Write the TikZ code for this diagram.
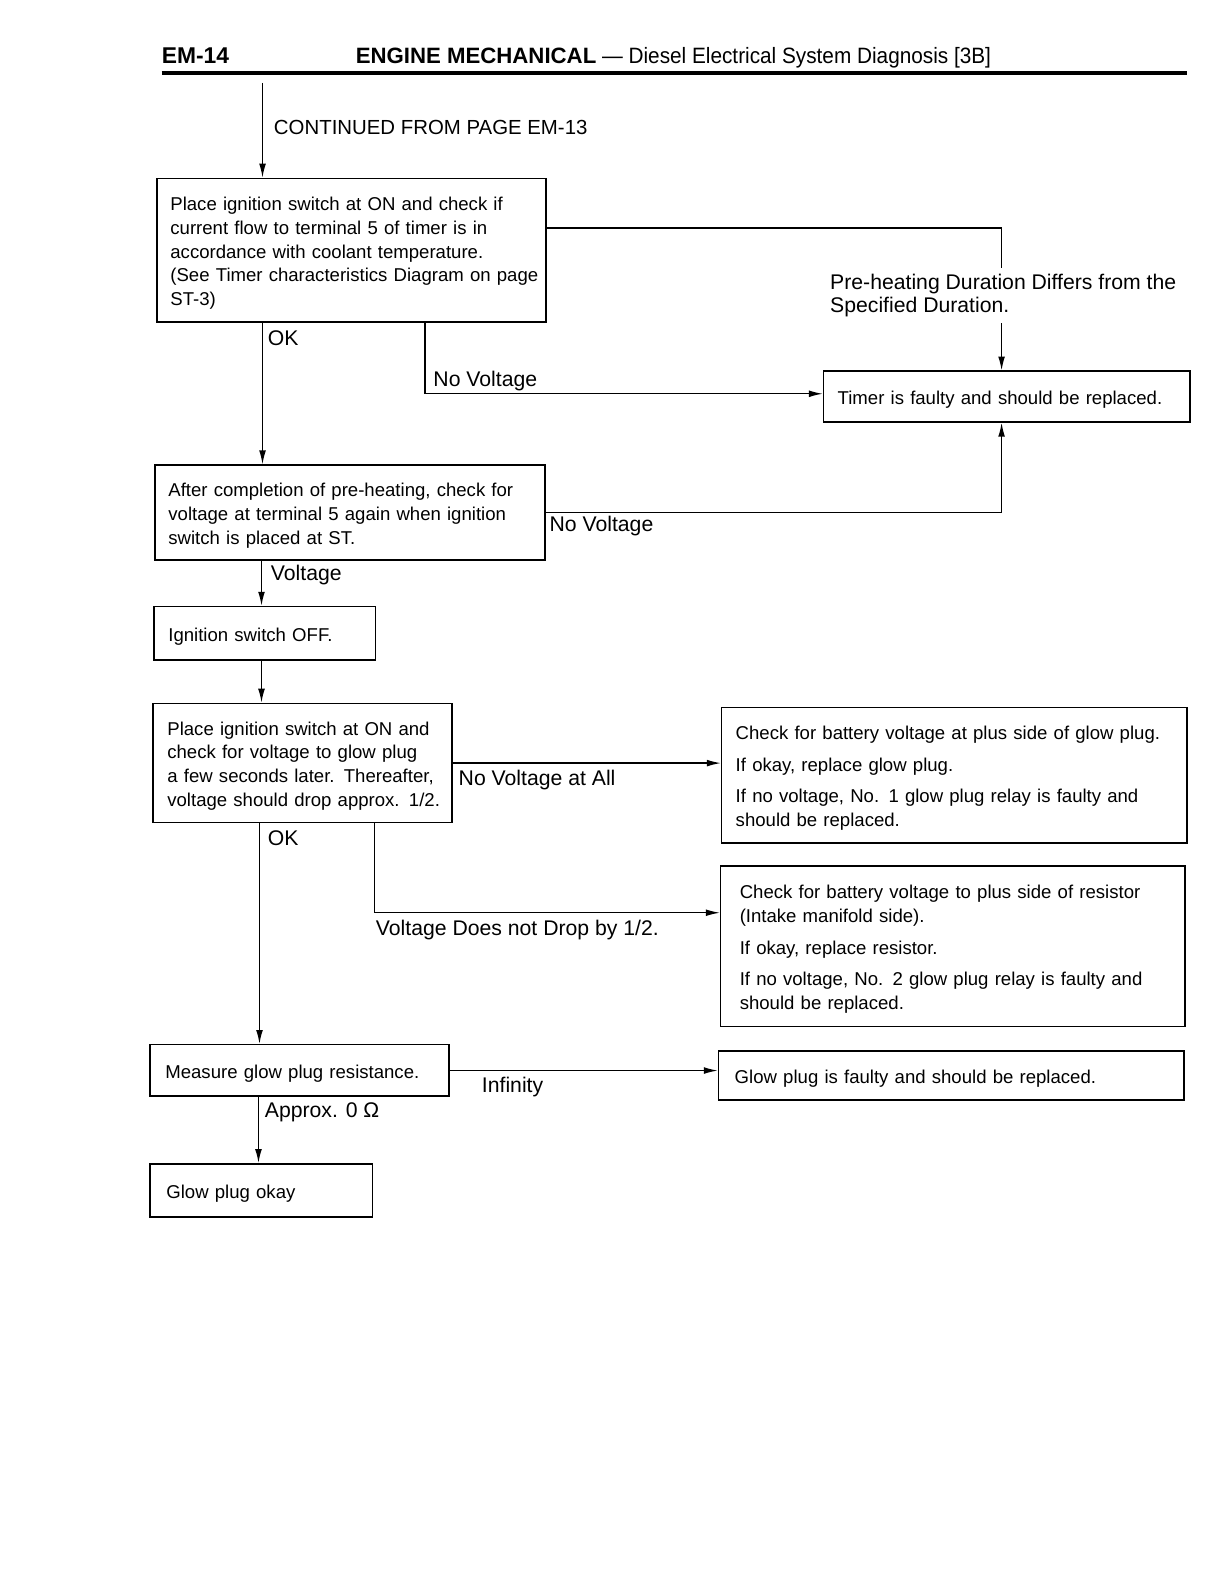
\documentclass[tikz,border=0pt]{standalone}
\usepackage{fontspec}
\setmainfont{Liberation Sans}
\usetikzlibrary{arrows.meta}
\newcommand{\boxfont}{\fontsize{9.2}{11.75}\selectfont\hfuzz=30pt\hbadness=10000}
\newcommand{\lblfont}{\fontsize{10.5}{11.5}\selectfont}
\newcommand{\bl}[1]{\mbox{#1}}
\tikzset{
  pbox/.style n args={4}{draw, line width=0.8pt, anchor=north west, inner ysep=0pt,
     minimum width=#1pt, minimum height=#2pt, inner xsep=#3pt, text width=#4pt,
     text height=9.7pt, align=left, font=\boxfont},
  lbl/.style={anchor=west, inner sep=0pt, align=left, font=\lblfont, yshift=-1.2pt},
  conn/.style={line width=0.7pt},
  arr/.style={conn, -{Latex[length=7pt,width=3.4pt]}}
}
\begin{document}
\begin{tikzpicture}[x=0.5pt,y=-0.5pt]
\useasboundingbox (0,0) rectangle (1224,1584);
\begin{scope}[scale=1.0095, transform shape]
% header
\node[anchor=base west, inner sep=0pt, font=\fontsize{11.3}{13}\selectfont\bfseries] (hdra) at (160,62.5) {EM-14};
\node[anchor=base west, inner sep=0pt, font=\fontsize{11}{13}\selectfont] (hdrb) at (352,62.5)
  {\textbf{ENGINE MECHANICAL}\scalebox{0.935}[1]{ --- Diesel Electrical System Diagnosis [3B]}};
\draw[line width=2pt] (160,72) -- (1176,72);

% boxes
\node[pbox={192.5}{71}{6.5}{179.5}] (b1) at (155,176)
  {\bl{Place ignition switch at ON and check if}\\
   \bl{current flow to terminal 5 of timer is in}\\
   \bl{accordance with coolant temperature.}\\
   \bl{(See Timer characteristics Diagram on page}\\
   \bl{ST-3)}};
\node[pbox={181.5}{25}{7}{167.5}] (timer) at (815,367)
  {\bl{Timer is faulty and should be replaced.}};
\node[pbox={193}{47}{6.5}{180}] (b2) at (153,460)
  {\bl{After completion of pre-heating, check for}\\
   \bl{voltage at terminal 5 again when ignition}\\
   \bl{switch is placed at ST.}};
\node[pbox={109.5}{26.5}{7}{95.5}] (b3) at (152,600)
  {\bl{Ignition switch OFF.}};
\node[pbox={148}{59}{7}{134}] (b4) at (151,696)
  {\bl{Place ignition switch at ON and}\\
   \bl{check for voltage to glow plug}\\
   \bl{a few seconds later. Thereafter,}\\
   \bl{voltage should drop approx. 1/2.}};
\node[pbox={230.5}{67}{7}{216.5}] (b5) at (714,700)
  {\bl{Check for battery voltage at plus side of glow plug.}\\[4pt]
   \bl{If okay, replace glow plug.}\\[4pt]
   \bl{If no voltage, No. 1 glow plug relay is faulty and}\\
   \bl{should be replaced.}};
\node[pbox={230}{79.5}{9.5}{211}] (b6) at (713,857)
  {\bl{Check for battery voltage to plus side of resistor}\\
   \bl{(Intake manifold side).}\\[4pt]
   \bl{If okay, replace resistor.}\\[4pt]
   \bl{If no voltage, No. 2 glow plug relay is faulty and}\\
   \bl{should be replaced.}};
\node[pbox={148}{25.5}{7.5}{133}] (b7) at (148,1034)
  {\bl{Measure glow plug resistance.}};
\node[pbox={230.5}{24.5}{8}{214.5}] (b8) at (711,1040)
  {\bl{Glow plug is faulty and should be replaced.}};
\node[pbox={110}{26.5}{8}{94}] (b9) at (148,1152)
  {\bl{Glow plug okay}};

% helper coordinates
\coordinate (top) at (260,82);
\coordinate (nv) at (421,390);
\coordinate (c1) at (992,226);
\coordinate (tk) at (259,0);
\coordinate (tk2) at (257,0);
\coordinate (tk3) at (256,0);
\coordinate (dv) at (371,904);

% connectors
\draw[arr] (top) -- (top |- b1.north);
\node[lbl, font=\fontsize{10.1}{12}\selectfont] (cont) at (271,124) {CONTINUED FROM PAGE EM-13};

\draw[arr] (b1.south -| top) -- (b2.north -| top);
\node[lbl] (ok1) at (265,333) {OK};

\draw[arr] (b1.south -| nv) -- (nv) -- (nv -| timer.west);
\node[lbl] (nv1) at (429,375) {No Voltage};

\draw[arr] (b1.east |- c1) -- (c1) -- (c1 |- timer.north);
\node[lbl, fill=white, inner ysep=3pt] (pre) at (822,290)
  {Pre-heating Duration Differs from the\\Specified Duration.};

\draw[arr] (b2.east) -| (c1 |- timer.south);
\node[lbl] (nv2) at (544,519) {No Voltage};

\draw[arr] (b2.south -| tk) -- (b3.north -| tk);
\node[lbl] (vol) at (268,567) {Voltage};

\draw[arr] (b3.south -| tk) -- (b4.north -| tk);

\draw[arr] (b4.east) -- (b4.east -| b5.west);
\node[lbl] (nva) at (454,770) {No Voltage at All};

\draw[arr] (b4.south -| dv) -- (dv) -- (dv -| b6.west);
\node[lbl] (vdn) at (372,919) {Voltage Does not Drop by 1/2.};

\draw[arr] (b4.south -| tk2) -- (b7.north -| tk2);
\node[lbl] (ok2) at (265,828) {OK};

\draw[arr] (b7.east) -- (b7.east -| b8.west);
\node[lbl] (inf) at (477,1074) {Infinity};

\draw[arr] (b7.south -| tk3) -- (b9.north -| tk3);
\node[lbl] (apx) at (262,1099) {Approx. 0 Ω};
\end{scope}
\end{tikzpicture}
\end{document}
